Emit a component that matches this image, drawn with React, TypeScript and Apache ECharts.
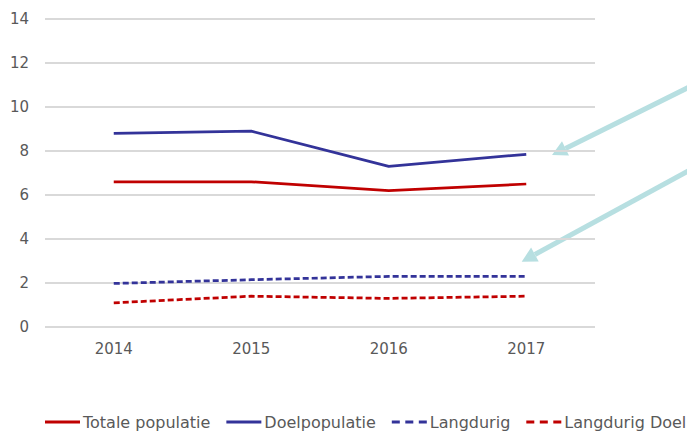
import React, { useEffect, useRef } from "react";
import * as echarts from "echarts";

const categories = ["2014", "2015", "2016", "2017"];
const totalePopulatie = [6.6, 6.6, 6.2, 6.5];
const doelpopulatie = [8.8, 8.9, 7.3, 7.85];
const langdurig = [1.98, 2.15, 2.3, 2.3];
const langdurigDoel = [1.1, 1.4, 1.3, 1.4];
const legendNames = ["Totale populatie", "Doelpopulatie", "Langdurig", "Langdurig Doel"];

const RED = "#c00000";
const BLUE = "#333399";
const ARROW = "#b7dfe1";
const TEXT = "#595959";
const FONT = "'DejaVu Sans', Verdana, sans-serif";
const SOLID_ICON = "path://M0,0h35v3h-35z";
const DASH_ICON = "path://M0,0h8v3h-8z M13.5,0h8v3h-8z M27,0h8v3h-8z";

export default function App() {
  const ref = useRef<HTMLDivElement>(null);
  useEffect(() => {
    if (!ref.current) return;
    const chart = echarts.init(ref.current, undefined, { renderer: "svg" });
    const line = (name: string, data: number[], color: string, dashed: boolean) => ({
      name,
      type: "line",
      data,
      symbol: "none",
      color,
      lineStyle: { color, width: 2.75, type: dashed ? [6, 3] : "solid" },
    });
    const colors = [RED, BLUE, BLUE, RED];
    chart.setOption({
      animation: false,
      textStyle: { fontFamily: FONT },
      grid: { left: 45, right: 92, top: 19, bottom: 105, containLabel: false },
      xAxis: {
        type: "category",
        data: categories,
        boundaryGap: true,
        axisLine: { show: false },
        axisTick: { show: false },
        axisLabel: { color: TEXT, fontSize: 15, margin: 14, fontFamily: FONT },
      },
      yAxis: {
        type: "value",
        min: 0,
        max: 14,
        interval: 2,
        axisLine: { show: false },
        axisTick: { show: false },
        axisLabel: { color: TEXT, fontSize: 15, margin: 16, fontFamily: FONT },
        splitLine: { lineStyle: { color: "#d9d9d9", width: 2 } },
      },
      legend: {
        left: 45,
        top: 414,
        padding: 0,
        itemWidth: 35,
        itemHeight: 3,
        itemGap: 16,
        textStyle: { color: TEXT, fontSize: 16, fontFamily: FONT, padding: [0, 0, 0, -2] },
        data: legendNames.map((n, i) => ({
          name: n,
          icon: i < 2 ? SOLID_ICON : DASH_ICON,
          itemStyle: { color: colors[i] },
        })),
      },
      series: [
        line("Totale populatie", totalePopulatie, RED, false),
        line("Doelpopulatie", doelpopulatie, BLUE, false),
        line("Langdurig", langdurig, BLUE, true),
        line("Langdurig Doel", langdurigDoel, RED, true),
      ],
      graphic: [
        {
          type: "line",
          shape: { x1: 700, y1: 81.7, x2: 565.5, y2: 148.4 },
          style: { stroke: ARROW, lineWidth: 5 },
        },
        {
          type: "polygon",
          shape: { points: [[552, 155], [569, 155.6], [562, 141.2]] },
          style: { fill: ARROW },
        },
        {
          type: "line",
          shape: { x1: 700, y1: 164.5, x2: 534.9, y2: 254.5 },
          style: { stroke: ARROW, lineWidth: 5 },
        },
        {
          type: "polygon",
          shape: { points: [[521.7, 261.7], [538.7, 261.5], [531.1, 247.5]] },
          style: { fill: ARROW },
        },
      ],
    });
    return () => chart.dispose();
  }, []);
  return (
    <div
      ref={ref}
      style={{ position: "absolute", left: 0, top: 0, width: 687, height: 432, overflow: "hidden" }}
    />
  );
}
